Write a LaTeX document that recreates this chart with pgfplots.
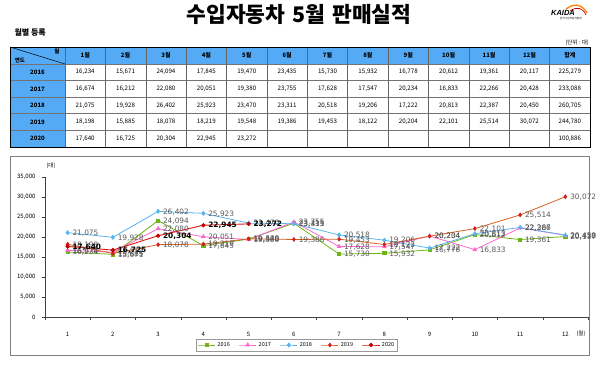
\documentclass[border=0pt]{standalone}
\usepackage{pgfplots}
\pgfplotsset{compat=1.18}
\usepackage{fontspec}
\setmainfont{Noto Sans CJK KR}
\newfontfamily\lat{Liberation Sans}
\newfontfamily\dv{DejaVu Sans}
\definecolor{hdr}{RGB}{85,170,245}
\definecolor{c16}{RGB}{110,180,20}
\definecolor{c17}{RGB}{255,102,204}
\definecolor{c18}{RGB}{90,180,240}
\definecolor{c19}{RGB}{215,95,30}
\definecolor{c19m}{RGB}{210,30,30}
\definecolor{c20}{RGB}{225,20,20}
\definecolor{c20m}{RGB}{190,0,0}
\definecolor{lbl}{RGB}{89,89,89}
\newcommand\fs[1]{\fontsize{#1}{#1}\selectfont}
\newcommand\cw{40.385}
\newcommand\trow[3]{%
  \node[font=\fs{6}\bfseries] at (37.5,{302-(#1-0.5)*16.6}) {#2};
  \foreach \v [count=\c] in {#3} {%
    \node[font=\fs{6.2}] at ({65+(\c-0.5)*\cw},{302-(#1-0.5)*16.6}) {\v};}%
}
\begin{document}
\begin{tikzpicture}[x=1pt,y=1pt]
\path[use as bounding box] (0,0) rectangle (600,366);
% title and headers
\node[font=\fs{21.5}\bfseries] at (299,351.5) {수입자동차\hspace{7pt}5월\hspace{7pt}판매실적};
\node[font=\fs{8}\bfseries, anchor=west] at (11,333) {월별 등록};
\node[font=\fs{5.5}, anchor=east, inner sep=0pt] at (589,323) {(단위 : 대)};
% logo
\draw[orange, line width=1.3pt] (566,357) .. controls (574,363) and (582,362) .. (587,353);
\draw[red!80!black, line width=0.7pt] (570,355) .. controls (577,360) and (583,358) .. (586,351);
\node[font=\lat\fs{7.5}\bfseries\itshape, inner sep=0pt] at (563,353) {KAIDA};
\node[font=\fs{2.6}, inner sep=0pt] at (571,347.5) {한국수입자동차협회};
% table
\fill[hdr] (10,302) rectangle (590,319);
\fill[hdr] (10,219) rectangle (65,302);
\foreach \yy in {302,285.4,268.8,252.2,235.6} \draw[black!55, line width=0.9pt] (10,\yy) -- (590,\yy);
\foreach \k in {0,...,12} \draw[black!60, line width=0.5pt] ({65+\k*\cw},219) -- ({65+\k*\cw},319);
\draw[black, line width=0.9pt] (10,219) rectangle (590,319);
\draw[black, line width=0.5pt] (10,319) -- (65,302);
\node[font=\fs{5.5}\bfseries] at (57,314.5) {월};
\node[font=\fs{5.5}\bfseries] at (20,306) {연도};
\foreach \t [count=\k] in {1월,2월,3월,4월,5월,6월,7월,8월,9월,10월,11월,12월,합계}
  \node[font=\fs{6}\bfseries] at ({65+(\k-0.5)*\cw},310.5) {\t};
\trow{1}{2016}{{16,234},{15,671},{24,094},{17,845},{19,470},{23,435},{15,730},{15,932},{16,778},{20,612},{19,361},{20,117},{225,279}}
\trow{2}{2017}{{16,674},{16,212},{22,080},{20,051},{19,380},{23,755},{17,628},{17,547},{20,234},{16,833},{22,266},{20,428},{233,088}}
\trow{3}{2018}{{21,075},{19,928},{26,402},{25,923},{23,470},{23,311},{20,518},{19,206},{17,222},{20,813},{22,387},{20,450},{260,705}}
\trow{4}{2019}{{18,198},{15,885},{18,078},{18,219},{19,548},{19,386},{19,453},{18,122},{20,204},{22,101},{25,514},{30,072},{244,780}}
\trow{5}{2020}{{17,640},{16,725},{20,304},{22,945},{23,272}}
\node[font=\fs{6.2}] at ({65+12.5*\cw},{302-4.5*16.6}) {100,886};
% chart frame
\draw[black!50, line width=0.6pt] (10.5,11) rectangle (589.5,210);
\begin{axis}[
  at={(45pt,49pt)}, anchor=south west, scale only axis,
  width=543pt, height=140pt,
  xmin=0.5, xmax=12.5, ymin=0, ymax=35000, clip=false,
  axis x line*=bottom, axis y line*=left,
  axis line style={-, draw=black!75, line width=0.6pt},
  xtick={1,...,12}, minor xtick={0.5,1.5,...,12.5},
  every major x tick/.append style={draw=none},
  major tick length=3pt, minor tick length=3pt, tick align=outside,
  tick style={black!75, line width=0.5pt},
  ytick={0,5000,...,35000}, scaled y ticks=false,
  yticklabels={0,{5,000},{10,000},{15,000},{20,000},{25,000},{30,000},{35,000}},
  xticklabels={1,2,3,4,5,6,7,8,9,10,11,12},
  xticklabel style={font=\fs{6}}, yticklabel style={font=\fs{6}},
  xticklabel shift=9pt, yticklabel shift=3pt,
  point meta=explicit symbolic,
  every node near coord/.append style={anchor=west, font=\dv\fs{7.4}, text=lbl, xshift=4pt, yshift=-0.5pt, inner sep=0.5pt},
  legend style={at={(0.464,-0.2)}, anchor=center, legend columns=5, draw=black!40,
    font=\fs{5.5}, inner sep=1.5pt, /tikz/every even column/.append style={column sep=7pt}},
  legend image post style={line width=0.8pt},
]
\addplot[c16, line width=0.8pt, mark=square*, mark size=1.6pt, mark options={fill=c16}, nodes near coords]
 coordinates {(1,16234)[16,234] (2,15671)[15,671] (3,24094)[24,094] (4,17845)[17,845] (5,19470)[19,470] (6,23435)[23,435] (7,15730)[15,730] (8,15932)[15,932] (9,16778)[16,778] (10,20612)[20,612] (11,19361)[19,361] (12,20117)[20,117]};
\addlegendentry{2016}
\addplot[c17, line width=0.8pt, mark=triangle*, mark size=2pt, mark options={fill=c17}, nodes near coords]
 coordinates {(1,16674)[16,674] (2,16212)[16,212] (3,22080)[22,080] (4,20051)[20,051] (5,19380)[19,380] (6,23755)[23,755] (7,17628)[17,628] (8,17547)[17,547] (9,20234)[20,234] (10,16833)[16,833] (11,22266)[22,266] (12,20428)[20,428]};
\addlegendentry{2017}
\addplot[c18, line width=0.8pt, mark=diamond*, mark size=2pt, mark options={fill=c18}, nodes near coords]
 coordinates {(1,21075)[21,075] (2,19928)[19,928] (3,26402)[26,402] (4,25923)[25,923] (5,23470)[23,470] (6,23311)[23,311] (7,20518)[20,518] (8,19206)[19,206] (9,17222)[17,222] (10,20813)[20,813] (11,22387)[22,387] (12,20450)[20,450]};
\addlegendentry{2018}
\addplot[c19, line width=0.8pt, mark=diamond*, mark size=1.8pt, mark options={fill=c19m, draw=c19m}, nodes near coords]
 coordinates {(1,18198)[18,198] (2,15885)[15,885] (3,18078)[18,078] (4,18219)[18,219] (5,19548)[19,548] (6,19386)[19,386] (7,19453)[19,453] (8,18122)[18,122] (9,20204)[20,204] (10,22101)[22,101] (11,25514)[25,514] (12,30072)[30,072]};
\addlegendentry{2019}
\addplot[c20, line width=0.9pt, mark=*, mark size=1.7pt, mark options={fill=c20m, draw=c20m}, nodes near coords,
  every node near coord/.append style={text=black, font=\dv\fs{7.4}\bfseries}]
 coordinates {(1,17640)[17,640] (2,16725)[16,725] (3,20304)[20,304] (4,22945)[22,945] (5,23272)[23,272]};
\addlegendentry{2020}
\end{axis}
\node[font=\fs{5.5}] at (51,200) {(대)};
\node[font=\fs{5.5}] at (581,32) {(월)};
\end{tikzpicture}
\end{document}
